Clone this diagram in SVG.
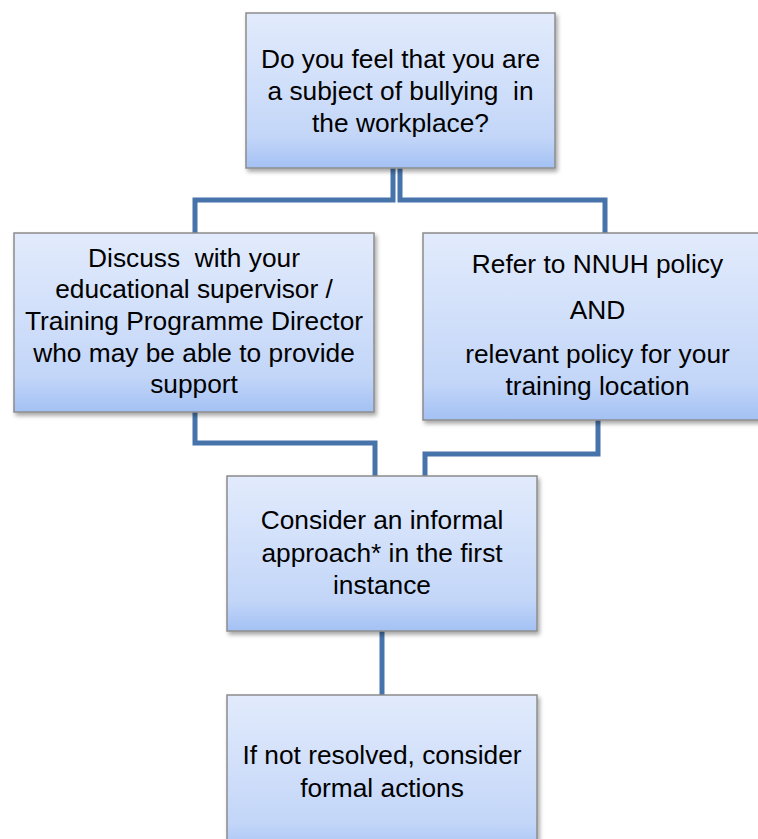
<svg xmlns="http://www.w3.org/2000/svg" width="758" height="839" viewBox="0 0 758 839">
<defs>
<linearGradient id="g" x1="0" y1="0" x2="0" y2="1">
<stop offset="0" stop-color="#e2ebfc"/>
<stop offset="0.8" stop-color="#c3d6f8"/>
<stop offset="1" stop-color="#a3c1f4"/>
</linearGradient>
<filter id="sh" x="-10%" y="-10%" width="130%" height="130%">
<feDropShadow dx="2" dy="3" stdDeviation="2" flood-color="#000" flood-opacity="0.35"/>
</filter>
</defs>
<style>
.box{fill:url(#g);stroke:#8c8c8c;stroke-width:1.5;filter:url(#sh)}
.t{font-family:"Liberation Sans",Arial,sans-serif;font-size:26.3px;fill:#000;text-anchor:middle}
.c{fill:none;stroke:#4673aa;stroke-width:5}
</style>
<rect width="758" height="839" fill="#fff"/>
<g id="connectors">
<path class="c" d="M393,168 V200 H195 V233"/>
<path class="c" d="M400,168 V200 H605 V233"/>
<path class="c" d="M195,412 V443 H375 V476"/>
<path class="c" d="M598,420 V454 H425 V476"/>
<path class="c" d="M382,631 V695"/>
</g>
<g id="n1">
<rect class="box" x="246" y="13" width="309" height="155"/>
<text class="t" x="400.5" y="68">Do you feel that you are</text>
<text class="t" x="400.5" y="100" xml:space="preserve">a subject of bullying  in</text>
<text class="t" x="400.5" y="132">the workplace?</text>
</g>
<g id="n2">
<rect class="box" x="14" y="233" width="360" height="179"/>
<text class="t" x="194" y="267" xml:space="preserve">Discuss  with your</text>
<text class="t" x="194" y="298">educational supervisor /</text>
<text class="t" x="194" y="330">Training Programme Director</text>
<text class="t" x="194" y="362">who may be able to provide</text>
<text class="t" x="194" y="393">support</text>
</g>
<g id="n3">
<rect class="box" x="423" y="233" width="349" height="187"/>
<text class="t" x="597.5" y="273">Refer to NNUH policy</text>
<text class="t" x="597.5" y="319">AND</text>
<text class="t" x="597.5" y="363">relevant policy for your</text>
<text class="t" x="597.5" y="395">training location</text>
</g>
<g id="n4">
<rect class="box" x="227" y="476" width="310" height="155"/>
<text class="t" x="382" y="529">Consider an informal</text>
<text class="t" x="382" y="562">approach* in the first</text>
<text class="t" x="382" y="594">instance</text>
</g>
<g id="n5">
<rect class="box" x="227" y="695" width="310" height="160"/>
<text class="t" x="382" y="764">If not resolved, consider</text>
<text class="t" x="382" y="797">formal actions</text>
</g>
</svg>
